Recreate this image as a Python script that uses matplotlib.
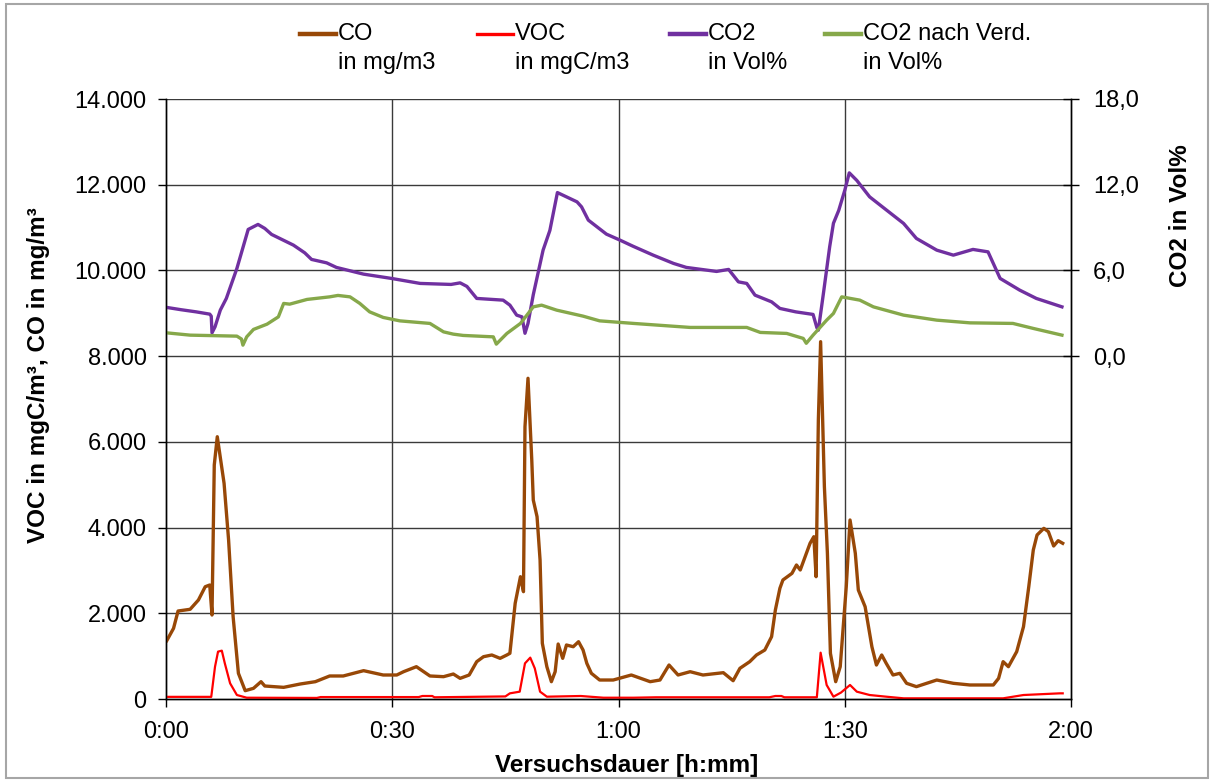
import numpy as np
import matplotlib; matplotlib.use("Agg")
import matplotlib.pyplot as plt
from matplotlib.lines import Line2D
from matplotlib.patches import Rectangle
from matplotlib.ticker import FuncFormatter

plt.rcParams["font.family"] = ["Liberation Sans", "DejaVu Sans"]

# time in minutes
co_t = [0.1, 1.0, 1.6, 3.2, 4.3, 5.2, 5.8, 6.1, 6.4, 6.8, 7.7, 8.3, 8.9, 9.6, 10.5, 11.6, 12.6, 13.1, 15.6,
        17.8, 19.8, 21.7, 23.5, 26.2, 28.8, 30.6, 31.5, 33.2, 35.0, 36.8, 38.1, 39.0, 40.2, 41.2, 42.1, 43.2,
        44.3, 45.2, 45.6, 46.3, 47.0, 47.4, 47.6, 48.0, 48.5, 48.7, 49.2, 49.6, 49.9, 50.5, 51.1, 51.6, 52.0,
        52.6, 53.1, 54.0, 54.7, 55.3, 55.8, 56.4, 57.5, 59.3, 61.7, 64.2, 65.5, 66.7, 67.9, 69.5, 71.2, 73.9,
        75.2, 76.1, 77.4, 78.3, 79.4, 80.3, 80.8, 81.4, 81.8, 83.0, 83.6, 84.1, 85.4, 85.9, 86.2, 86.5, 86.8,
        87.3, 87.7, 88.1, 88.8, 89.4, 90.2, 90.7, 91.4, 91.8, 92.7, 93.6, 94.2, 94.9, 95.5, 96.4, 97.3, 98.2,
        99.5, 102.2, 104.4, 106.6, 109.7, 110.4, 111.0, 111.7, 112.8, 113.7, 114.4, 115.0, 115.5, 116.4, 117.0,
        117.7, 118.3, 118.9]
co_v = [1361, 1649, 2053, 2093, 2310, 2620, 2660, 1960, 5460, 6120, 5033, 3710, 1920, 600, 194, 249, 404, 303, 272,
        350, 404, 537, 537, 661, 560, 560, 637, 754, 537, 521, 583, 482, 560, 871, 987, 1027,
        949, 1027, 1066, 2233, 2854, 2504, 6354, 7483, 5577, 4643, 4254, 3243, 1300, 754, 404, 637, 1283,
        949, 1260, 1220, 1337, 1143, 832, 600, 443, 443, 560, 404, 443, 793, 560, 637, 560, 614,
        427, 716, 871, 1027, 1143, 1454, 2077, 2583, 2777, 2932, 3127, 3010, 3633, 3787, 2854, 6510, 8337,
        4954, 3400, 1066, 404, 754, 2620, 4177, 3400, 2543, 2154, 1220, 793, 1027, 832, 560, 599, 366,
        288, 443, 366, 327, 327, 482, 871, 754, 1105, 1687, 2620, 3477, 3827, 3982, 3904,
        3570, 3694, 3633]

voc_t = [0.1, 6.0, 6.5, 6.9, 7.4, 7.8, 8.5, 9.4, 10.7, 20.0, 20.5, 33.5, 34.0, 35.3, 35.6, 45.0, 45.6, 46.9, 47.6,
         48.3, 48.9, 49.6, 50.5, 55.0, 58.0, 62.0, 65.0, 80.0, 80.8, 81.6, 82.0, 86.3, 86.8, 87.6, 88.5, 89.5,
         90.7, 91.6, 93.3, 95.5, 97.8, 111.0, 113.7, 118.5, 118.9]
voc_v = [50, 50, 754, 1105, 1128, 832, 366, 93, 30, 25, 45, 45, 70, 70, 40, 60, 132, 171, 832,
         965, 715, 171, 54, 70, 30, 30, 40, 40, 70, 70, 40, 40, 1081, 327, 54, 150,
         327, 171, 93, 54, 16, 16, 93, 132, 132]

co2_t = [0.1, 2.0, 4.0, 5.8, 6.0, 6.1, 6.5, 7.2, 8.0, 9.4, 10.9, 12.2, 13.1, 14.0, 16.9, 18.4, 19.3, 21.3, 22.6,
         26.2, 29.9, 33.7, 37.8, 39.0, 39.9, 41.2, 44.7, 45.6, 46.5, 47.2, 47.6, 48.0, 48.7, 50.0, 50.9, 51.9,
         54.5, 55.1, 56.0, 58.4, 60.2, 61.9, 64.6, 67.3, 69.0, 73.0, 74.6, 75.9, 77.0, 78.1, 80.3, 81.4, 83.5,
         85.8, 86.3, 86.5, 87.2, 88.0, 88.5, 89.2, 90.0, 90.6, 91.6, 93.3, 94.7, 97.8, 99.5, 102.2, 104.4,
         107.0, 109.0, 110.6, 113.2, 115.4, 118.8]
co2_v = [3.41, 3.25, 3.10, 2.94, 2.80, 1.63, 2.05, 3.22, 4.04, 6.14, 8.87, 9.22, 8.94, 8.52, 7.77, 7.23, 6.77, 6.53, 6.21,
         5.74, 5.44, 5.09, 5.02, 5.13, 4.88, 4.04, 3.92, 3.57, 2.87, 2.75, 1.60, 2.29, 4.30, 7.42, 8.80, 11.45,
         10.80, 10.45, 9.52, 8.54, 8.12, 7.70, 7.07, 6.49, 6.21, 5.93, 6.07, 5.20, 5.09, 4.27, 3.80, 3.34, 3.10,
         2.92, 2.00, 1.82, 4.50, 7.65, 9.30, 10.20, 11.60, 12.83, 12.30, 11.15, 10.57, 9.29, 8.24, 7.42, 7.07,
         7.47, 7.30, 5.44, 4.62, 4.04, 3.45]

co2v_t = [0.1, 3.2, 9.4, 10.0, 10.2, 10.7, 11.6, 13.4, 14.9, 15.6, 16.4, 18.7, 21.7, 22.8, 24.4, 25.7, 27.0, 28.8,
          31.0, 35.0, 36.8, 38.1, 39.4, 43.4, 43.8, 45.2, 47.0, 48.7, 49.8, 51.8, 55.3, 57.5, 62.0, 69.5, 77.0,
          78.8, 82.3, 84.5, 84.9, 85.8, 87.6, 88.5, 89.6, 92.0, 93.8, 97.8, 102.2, 106.6, 112.3, 115.0, 118.8]
co2v_v = [1.63, 1.47, 1.40, 1.20, 0.77, 1.35, 1.87, 2.24, 2.75, 3.69, 3.64, 3.97, 4.15, 4.25, 4.15, 3.69, 3.10, 2.71,
          2.47, 2.29, 1.70, 1.54, 1.45, 1.35, 0.84, 1.59, 2.29, 3.45, 3.57, 3.22, 2.80, 2.47, 2.29, 2.01, 2.01,
          1.66, 1.59, 1.24, 0.90, 1.47, 2.52, 2.99, 4.15, 3.92, 3.45, 2.87, 2.52, 2.33, 2.29, 1.94, 1.47]

x_ticks = [0, 30, 60, 90, 120]
x_labels = ["0:00", "0:30", "1:00", "1:30", "2:00"]
y_ticks = [0, 2000, 4000, 6000, 8000, 10000, 12000, 14000]
y2_ticks = [0, 6, 12, 18]

C_CO, C_VOC, C_CO2, C_CO2V = "#984807", "#FF0000", "#7030A0", "#86A84A"
W, H = 1214, 782
FS, FT = 17, 17.5   # tick/legend size, axis title size

fig = plt.figure(figsize=(W / 100, H / 100), dpi=100)
fig.patches.append(Rectangle((6 / W, 4 / H), 1202 / W, 774 / H, transform=fig.transFigure,
                             fill=False, edgecolor="#A6A6A6", lw=1.5))
ax = fig.add_axes([166 / W, 1 - 699 / H, (1071 - 166) / W, 600 / H])
ax2 = ax.twinx()

ax.plot(co_t, co_v, color=C_CO, lw=2.4, zorder=3)
ax.plot(voc_t, voc_v, color=C_VOC, lw=1.6, zorder=3)
ax2.plot(co2_t, co2_v, color=C_CO2, lw=2.4)
ax2.plot(co2v_t, co2v_v, color=C_CO2V, lw=2.4)

ax.set_xlim(0, 120); ax.set_ylim(0, 14000)
ax2.set_ylim(-24, 18)
ax.set_xticks(x_ticks); ax.set_xticklabels(x_labels)
ax.set_yticks(y_ticks)
ax.yaxis.set_major_formatter(FuncFormatter(lambda v, p: f"{int(v):,}".replace(",", ".")))
ax2.set_yticks(y2_ticks)
ax2.set_yticklabels([f"{v:.1f}".replace(".", ",") for v in y2_ticks])

for y in y_ticks[1:]:
    ax.axhline(y, color="#3a3a3a", lw=1.0, zorder=1)
for x in x_ticks[1:-1]:
    ax.axvline(x, color="#3a3a3a", lw=1.0, zorder=1)

for a in (ax, ax2):
    a.spines["top"].set_visible(False)
    for s in a.spines.values():
        s.set_color("black"); s.set_linewidth(1.0)
ax.tick_params(axis="y", direction="out", length=6, width=1, labelsize=FS, pad=8)
ax.tick_params(axis="x", direction="out", length=6, width=1, labelsize=FS, pad=10)
ax2.tick_params(axis="y", direction="inout", length=12, width=1, labelsize=FS, pad=10)

ax.set_xlabel("Versuchsdauer [h:mm]", fontsize=FT, fontweight="bold")
ax.xaxis.set_label_coords(0.509, -0.092)
ax.set_ylabel("VOC in mgC/m³, CO in mg/m³", fontsize=FT, fontweight="bold")
ax.yaxis.set_label_coords(-0.128, 0.54)
ax2.set_ylabel("CO2 in Vol%", fontsize=FT, fontweight="bold")
ax2.yaxis.set_label_coords(1.108, 0.805)

# legend: handle next to first line of a two-line label
legend = [("CO", "in mg/m3", C_CO, 300, 1.6), ("VOC", "in mgC/m3", C_VOC, 477, 1.2),
          ("CO2", "in Vol%", C_CO2, 670, 1.6), ("CO2 nach Verd.", "in Vol%", C_CO2V, 825, 1.6)]
for name, unit, col, x0, lw in legend:
    fig.add_artist(Line2D([x0 / W, (x0 + 36) / W], [1 - 34 / H] * 2, color=col, lw=lw * 2,
                          transform=fig.transFigure))
    fig.text((x0 + 38) / W, 1 - 34 / H, name, fontsize=FS, va="center", ha="left")
    fig.text((x0 + 38) / W, 1 - 63 / H, unit, fontsize=FS, va="center", ha="left")

fig.savefig("out.png", dpi=100)
